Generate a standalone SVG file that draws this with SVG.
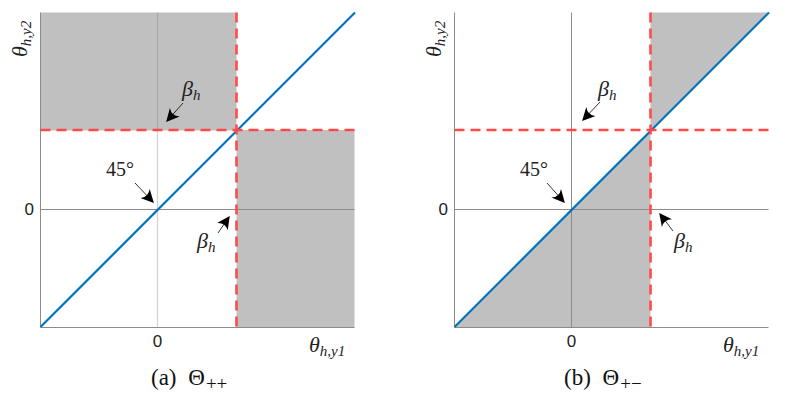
<svg xmlns="http://www.w3.org/2000/svg" width="789" height="402" viewBox="0 0 789 402">
<style>
.shade{fill:#c0c0c0;stroke:none}
.axis{stroke:#8c8c8c;stroke-width:1;fill:none}
.zero{stroke:#8c8c8c;stroke-width:1;fill:none}
.zerolt{stroke:#808080;stroke-opacity:0.35;stroke-width:1.2;fill:none}
.diag{stroke:#0072bd;stroke-width:2.2;fill:none}
.red{stroke:#ff4a4a;stroke-width:2.6;stroke-dasharray:10 6;fill:none}
.arr{stroke:#000;stroke-width:0.8;fill:none;marker-end:url(#ah)}
.math{font-family:"Liberation Serif","Times New Roman",serif;font-style:italic;font-size:22px;fill:#222}
.rm{font-family:"Liberation Serif","Times New Roman",serif;font-size:20px;fill:#222}
.tick{font-family:"Liberation Sans",Arial,sans-serif;font-size:17px;fill:#222}
.cap{font-family:"Liberation Serif","Times New Roman",serif;font-size:23px;fill:#111}
.sub{font-size:15px}
</style>
<defs>
<marker id="ah" viewBox="0 0 10 10" refX="9" refY="5" markerWidth="13" markerHeight="13" markerUnits="userSpaceOnUse" orient="auto">
<path d="M0,0 Q4,5 0,10 L10,5 Z" fill="#000"/>
</marker>
</defs>

<g id="panel-a">
<rect class="shade" x="40.5" y="12.5" width="196" height="118"/>
<rect class="shade" x="236.5" y="130" width="118" height="197"/>
<line class="axis" x1="40.5" y1="12.5" x2="40.5" y2="327.5"/>
<line class="axis" x1="40.5" y1="327.5" x2="354.5" y2="327.5"/>
<line class="zerolt" x1="157.5" y1="12.5" x2="157.5" y2="327.5"/>
<line class="zero" x1="40.5" y1="209.5" x2="354.5" y2="209.5"/>
<line class="diag" x1="40.5" y1="327" x2="355" y2="12.5"/>
<line class="red" x1="40.5" y1="130" x2="355" y2="130"/>
<line class="red" x1="236.5" y1="12.5" x2="236.5" y2="327"/>
<text class="tick" x="34" y="215" text-anchor="end">0</text>
<text class="tick" x="157.5" y="347" text-anchor="middle">0</text>
<text class="math" x="309" y="352">θ<tspan class="sub" dy="4">h,y1</tspan></text>
<text class="math" transform="translate(27,57) rotate(-90)">θ<tspan class="sub" dy="4">h,y2</tspan></text>
</g>

<g id="panel-b">
<polygon class="shade" points="650.5,12.5 768,12.5 650.5,130"/>
<polygon class="shade" points="454.5,327 650.5,130.5 650.5,327"/>
<line class="axis" x1="454.5" y1="12.5" x2="454.5" y2="327.5"/>
<line class="axis" x1="454.5" y1="327.5" x2="768.5" y2="327.5"/>
<line class="zero" x1="571.5" y1="12.5" x2="571.5" y2="327.5"/>
<line class="zero" x1="454.5" y1="209.5" x2="768.5" y2="209.5"/>
<line class="diag" x1="454.5" y1="327" x2="769" y2="12.5"/>
<line class="red" x1="454.5" y1="130" x2="769" y2="130"/>
<line class="red" x1="650.5" y1="12.5" x2="650.5" y2="327"/>
<text class="tick" x="448" y="215" text-anchor="end">0</text>
<text class="tick" x="571.5" y="347" text-anchor="middle">0</text>
<text class="math" x="723" y="352">θ<tspan class="sub" dy="4">h,y1</tspan></text>
<text class="math" transform="translate(441,57) rotate(-90)">θ<tspan class="sub" dy="4">h,y2</tspan></text>
</g>

<g id="annotations-a">
<text class="math" x="182" y="96">β<tspan class="sub" dy="4">h</tspan></text>
<text class="rm" x="106" y="176">45°</text>
<text class="math" x="197" y="248">β<tspan class="sub" dy="4">h</tspan></text>
</g>
<g id="annotations-b">
<text class="math" x="598" y="96">β<tspan class="sub" dy="4">h</tspan></text>
<text class="rm" x="520" y="176">45°</text>
<text class="math" x="674" y="248">β<tspan class="sub" dy="4">h</tspan></text>
</g>

<g id="connectors">
<line class="arr" x1="183" y1="103" x2="167" y2="121"/>
<line class="arr" x1="135" y1="183" x2="153" y2="202"/>
<line class="arr" x1="218" y1="233" x2="229" y2="217"/>
<line class="arr" x1="600" y1="102" x2="583" y2="120"/>
<line class="arr" x1="547" y1="183" x2="564" y2="202"/>
<line class="arr" x1="673" y1="231" x2="660" y2="214"/>
</g>

<g id="captions">
<text class="cap" x="151" y="385">(a) <tspan dx="6">Θ</tspan><tspan font-size="19" dx="1" dy="5">++</tspan></text>
<text class="cap" x="564" y="385">(b) <tspan dx="6">Θ</tspan><tspan font-size="19" dx="1" dy="5">+−</tspan></text>
</g>
</svg>
